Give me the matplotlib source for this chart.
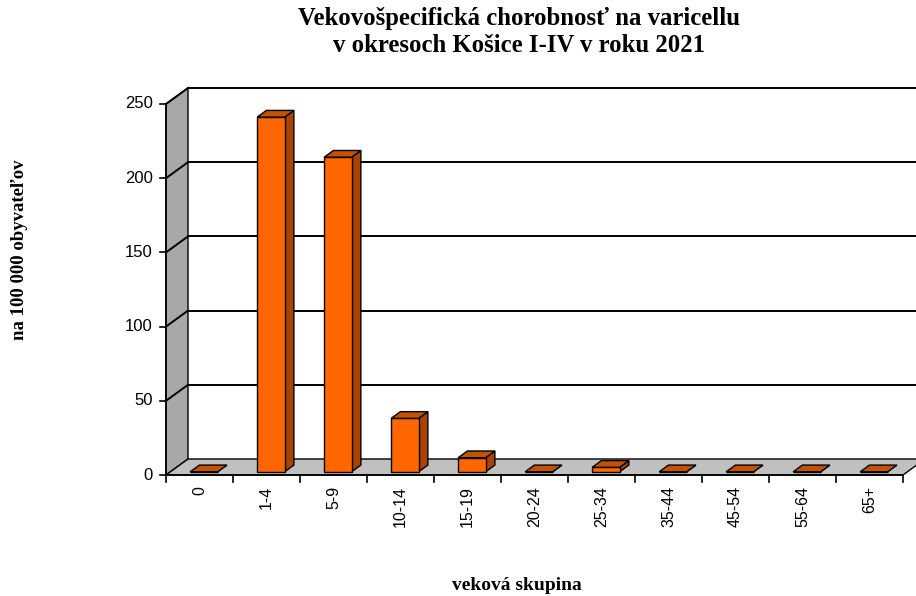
import matplotlib
matplotlib.use("Agg")
import matplotlib.pyplot as plt
from matplotlib.patches import Polygon
import numpy as np

# data
categories = ['0', '1-4', '5-9', '10-14', '15-19', '20-24', '25-34',
              '35-44', '45-54', '55-64', '65+']
values = [0, 239, 212, 36, 9.5, 0, 3, 0, 0, 0, 0]
yticks = [0, 50, 100, 150, 200, 250]

title = 'Vekovošpecifická chorobnosť na varicellu\nv okresoch Košice I-IV v roku 2021'
ylabel = 'na 100 000 obyvateľov'
xlabel = 'veková skupina'

W, H = 916, 596
fig = plt.figure(figsize=(W / 100, H / 100), dpi=100)

# front plane of the 3D box, in pixels
x0_px, x1_px = 166, 903
y0_px, y1_px = 475, 104
ax = fig.add_axes([x0_px / W, 1 - y0_px / H, (x1_px - x0_px) / W, (y0_px - y1_px) / H])
n = len(categories)
ymax = yticks[-1]
ax.set_xlim(0, n)
ax.set_ylim(0, ymax)
ax.axis('off')

# depth offset (back wall) in data units
px_x = n / (x1_px - x0_px)
px_y = ymax / (y0_px - y1_px)
dx = 22 * px_x
dy = 16 * px_y

def poly(pts, fc, ec='black', lw=1.0, z=1):
    ax.add_patch(Polygon(pts, closed=True, facecolor=fc, edgecolor=ec,
                         linewidth=lw, zorder=z, clip_on=False))

# left wall and floor
poly([(0, 0), (dx, dy), (dx, ymax + dy), (0, ymax)], '#a8a8a8', lw=1.0, z=1)
poly([(0, 0), (n, 0), (n + dx, dy), (dx, dy)], '#c0c0c0', lw=1.0, z=1)

# gridlines on back wall and left wall
for v in yticks[1:]:
    ax.plot([dx, n + dx], [v + dy, v + dy], color='black', lw=1.4, zorder=2, clip_on=False)
    ax.plot([0, dx], [v, v + dy], color='black', lw=1.4, zorder=2, clip_on=False)

# front axes lines and ticks
ax.plot([0, 0], [0, ymax], color='black', lw=1.2, zorder=3, clip_on=False)
ax.plot([0, n], [0, 0], color='black', lw=1.2, zorder=3, clip_on=False)
for v in yticks:
    ax.plot([-6 * px_x, 0], [v, v], color='black', lw=1.2, zorder=3, clip_on=False)
    ax.text(-13 * px_x, v, str(v), ha='right', va='center', fontsize=12,
            family='Liberation Sans')
for i in range(n + 1):
    ax.plot([i, i], [0, -7 * px_y], color='black', lw=1.2, zorder=3, clip_on=False)
for i, c in enumerate(categories):
    ax.text(i + 0.5, -11 * px_y, c, ha='center', va='top', rotation=90,
            fontsize=11.5, family='Liberation Sans')

# 3D bars
bw = 0.41
a, b = 0.2, 0.62   # front / back depth fraction of bars
fx, fy = a * dx, a * dy
sx, sy = (b - a) * dx, (b - a) * dy
xs = np.arange(n) + 0.5 - bw / 2 + fx
ax.bar(xs, values, width=bw, bottom=fy, align='edge', color='#ff6600',
       edgecolor='black', linewidth=1.0, zorder=5, clip_on=False)
for xl, v in zip(xs, values):
    top = v + fy
    poly([(xl + bw, fy), (xl + bw + sx, fy + sy), (xl + bw + sx, top + sy), (xl + bw, top)],
         '#a84300', z=4)
    poly([(xl, top), (xl + bw, top), (xl + bw + sx, top + sy), (xl + sx, top + sy)],
         '#c45200', z=6)

fig.text(519 / W, 1 - 32 / H, title, ha='center', va='center', fontsize=17.8,
         fontweight='bold', family='Liberation Serif', linespacing=1.22)
fig.text(20 / W, 1 - 250 / H, ylabel, ha='center', va='center', rotation=90,
         fontsize=13.5, fontweight='bold', family='Liberation Serif')
fig.text(517 / W, 1 - 585 / H, xlabel, ha='center', va='center', fontsize=14,
         fontweight='bold', family='Liberation Serif')

fig.savefig('out.png', dpi=100)
